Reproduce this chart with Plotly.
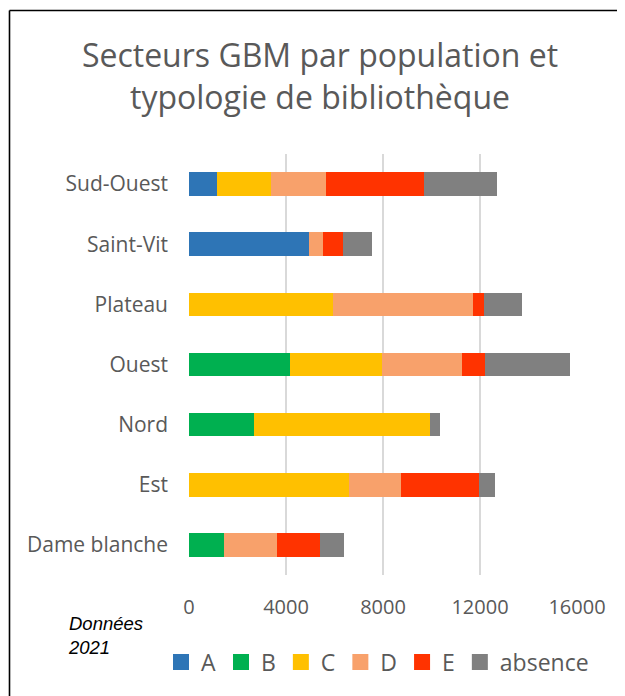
import plotly.graph_objects as go

categories = ["Dame blanche", "Est", "Nord", "Ouest", "Plateau", "Saint-Vit", "Sud-Ouest"]
series_names = ["A", "B", "C", "D", "E", "absence"]
A = [0, 0, 0, 0, 0, 4940, 1150]
B = [1440, 0, 2680, 4160, 0, 0, 0]
C = [0, 6580, 7250, 3800, 5950, 0, 2250]
D = [2200, 2150, 0, 3300, 5750, 590, 2240]
E = [1770, 3230, 0, 950, 470, 840, 4070]
absence = [980, 660, 425, 3500, 1570, 1190, 3010]
tick_values = [0, 4000, 8000, 12000, 16000]
tick_labels = ["0", "4000", "8000", "12000", "16000"]

series_values = [A, B, C, D, E, absence]
colors = ["#2E75B6", "#00B050", "#FFC000", "#F8A16B", "#FF3300", "#808080"]

# page has an 8px body margin, so the figure is 8px smaller and shifted
W, H = 617, 688
ml, mr, mt = 181, 48, 146
plot_bottom = 567
mb = H - plot_bottom
pw, ph = W - ml - mr, H - mt - mb

def px_x(p):
    return (p - ml) / pw

def px_y(p):
    return (H - mb - p) / ph

fig = go.Figure()
for name, vals, col in zip(series_names, series_values, colors):
    fig.add_trace(go.Bar(
        y=categories, x=vals, name=name, orientation="h",
        marker=dict(color=col, line=dict(width=0)),
        showlegend=False, legendgroup=name,
    ))
# legend entries (no data drawn)
for name, col in zip(series_names, colors):
    fig.add_trace(go.Scatter(
        x=[None], y=[None], mode="markers", name=name, legendgroup=name,
        marker=dict(symbol="square", size=17, color=col),
        hoverinfo="skip",
    ))

gray = "#595959"
fig.update_layout(
    width=W, height=H,
    margin=dict(l=ml, r=mr, t=mt, b=mb, autoexpand=False),
    barmode="stack", bargap=0.61,
    paper_bgcolor="white", plot_bgcolor="white",
    font=dict(family="Open Sans", color=gray),
    title=dict(
        text="Secteurs GBM par population et<br>typologie de bibliothèque",
        x=312 / W, xanchor="center", xref="container",
        y=1 - 59 / H, yanchor="top", yref="container",
        font=dict(size=32, color=gray, family="Open Sans"),
    ),
    xaxis=dict(
        range=[0, 16000], tickvals=tick_values, ticktext=tick_labels,
        showgrid=True, gridcolor="#D9D9D9", gridwidth=2,
        zeroline=False, showline=False, ticks="",
        tickfont=dict(size=20, color=gray), ticklabelstandoff=18,
        fixedrange=True,
    ),
    yaxis=dict(
        categoryorder="array", categoryarray=categories,
        showgrid=False, zeroline=False, showline=False, ticks="",
        tickfont=dict(size=21, color=gray), ticklabelstandoff=20,
    ),
    legend=dict(
        orientation="h", x=px_x(153), xanchor="left",
        y=px_y(654), yanchor="middle",
        font=dict(size=23, color=gray), traceorder="normal",
        bgcolor="rgba(0,0,0,0)", itemsizing="trace",
    ),
    showlegend=True,
)

fig.add_annotation(
    text="<i>Données<br>2021</i>", xref="paper", yref="paper",
    x=px_x(58), y=px_y(603), xanchor="left", yanchor="top", align="left",
    showarrow=False, font=dict(family="Liberation Sans, Arial", size=18.5, color="black"),
)

# chart frame: only its top and left edges are inside the picture
fig.add_shape(
    type="line", xref="paper", yref="paper",
    x0=px_x(1.5), x1=px_x(W), y0=px_y(2.5), y1=px_y(2.5),
    line=dict(color="black", width=1.6), layer="below",
)
fig.add_shape(
    type="line", xref="paper", yref="paper",
    x0=px_x(1.5), x1=px_x(1.5), y0=px_y(2.5), y1=px_y(H),
    line=dict(color="black", width=1.6), layer="below",
)

fig.write_html("out.html")
